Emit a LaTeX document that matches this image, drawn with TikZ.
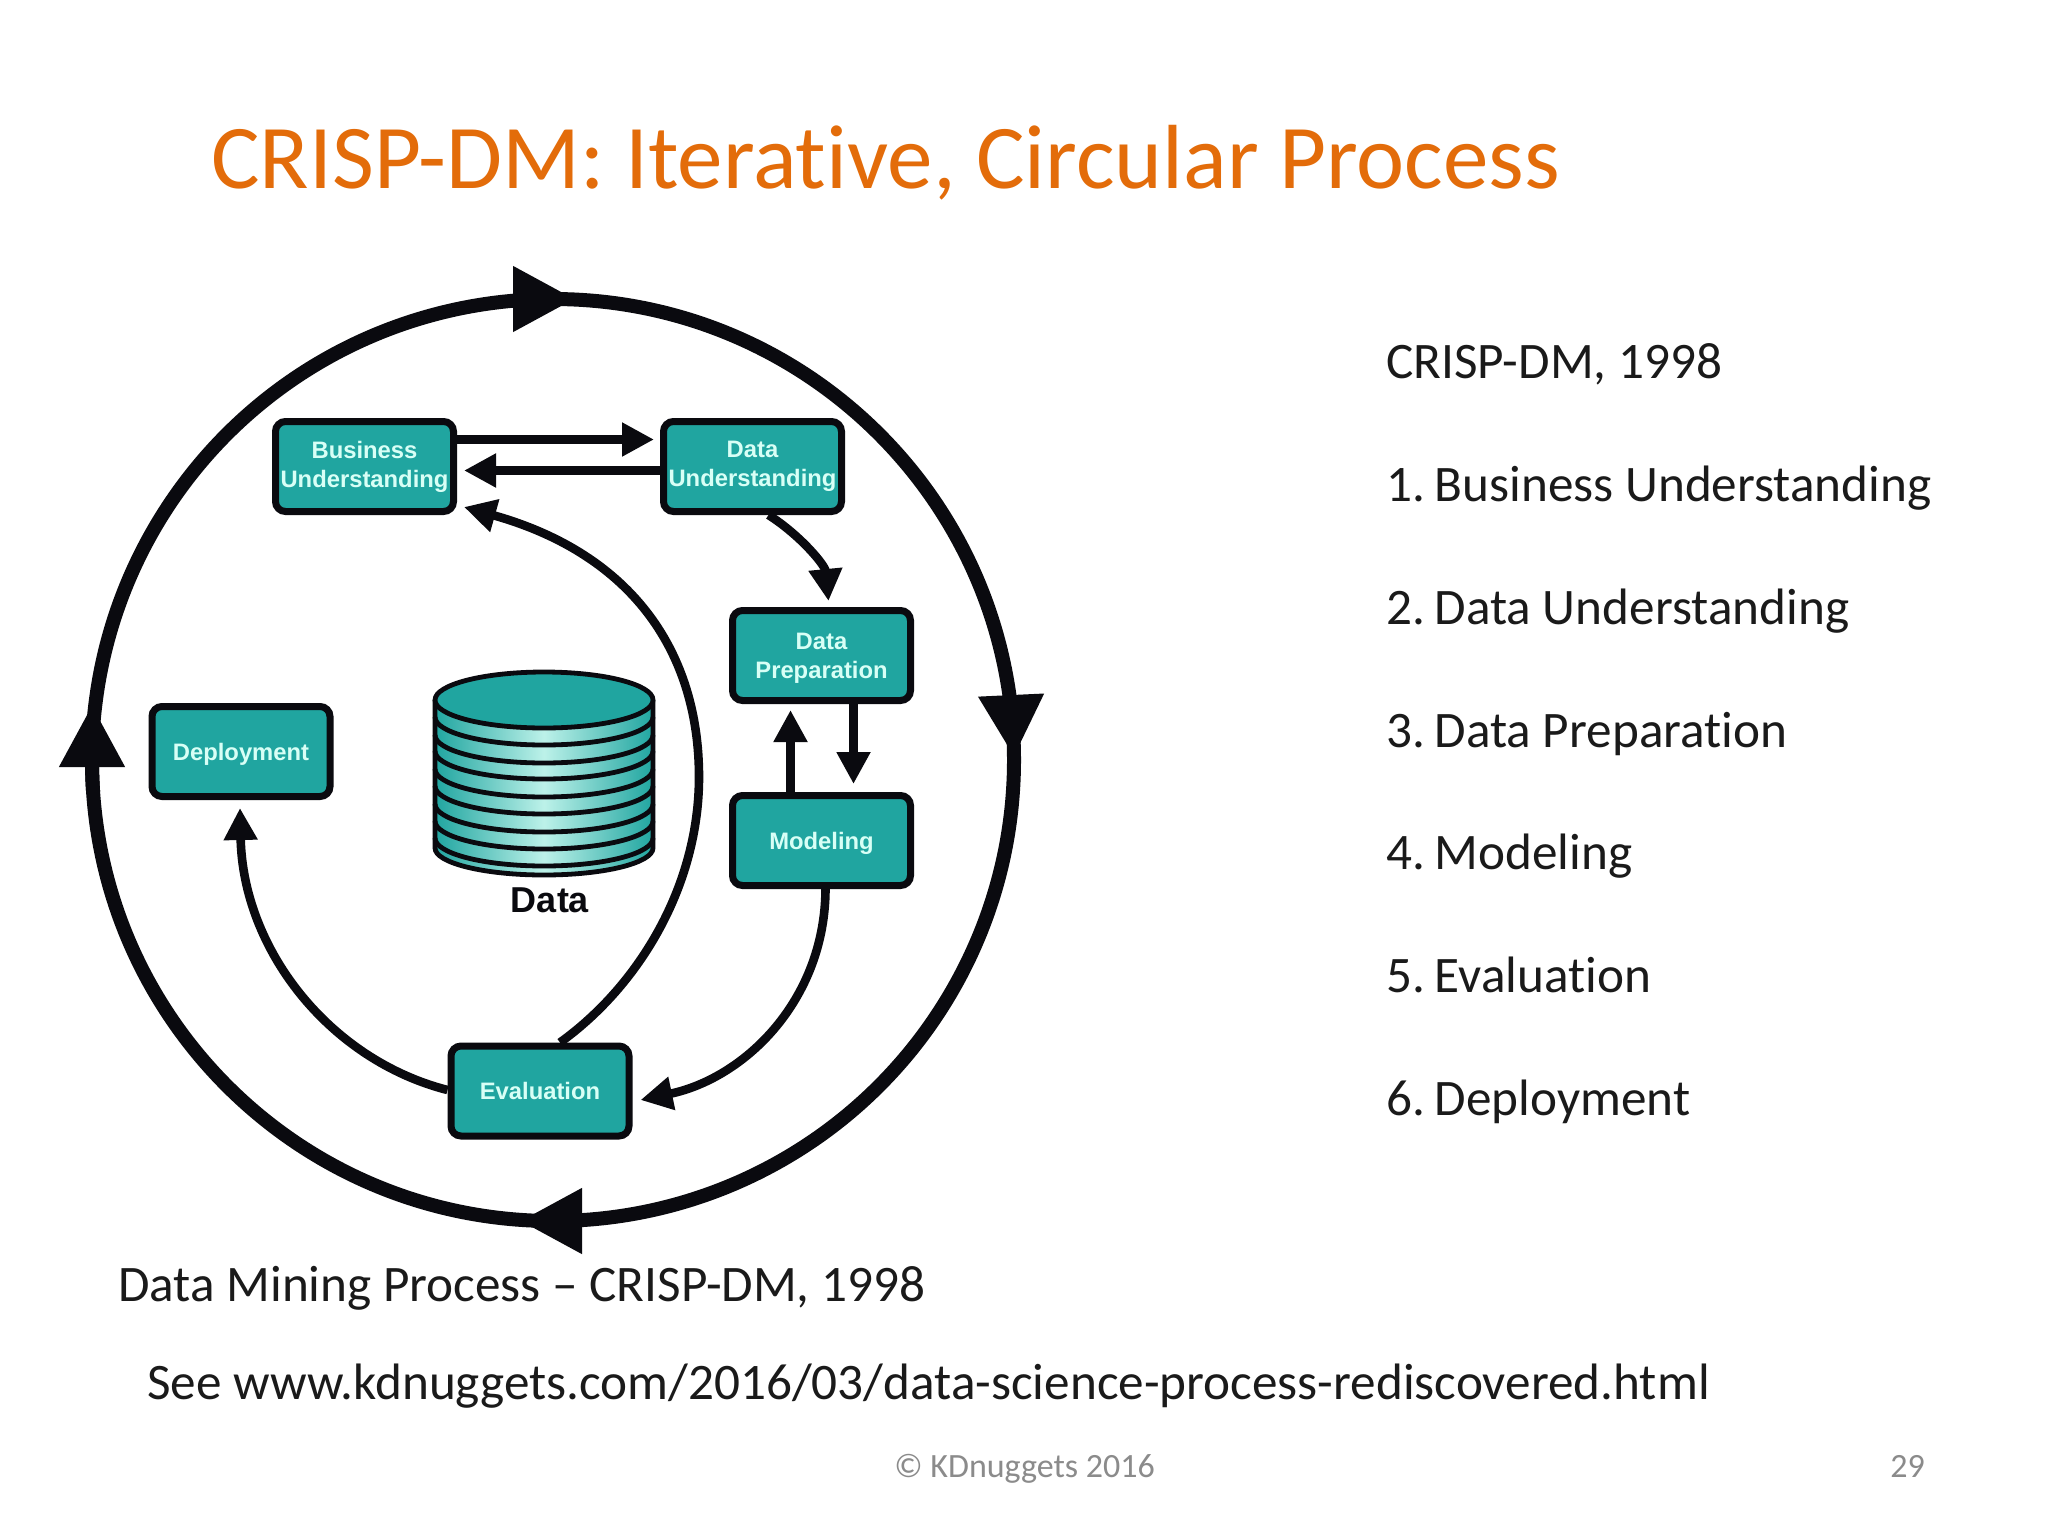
\documentclass[tikz,border=0pt]{standalone}
\usepackage{fontspec}
\setmainfont{Carlito}[Ligatures=NoCommon]
\newfontfamily\boxfont{Liberation Sans}[BoldFont={Liberation Sans Bold}]
\usetikzlibrary{arrows.meta,calc}
\definecolor{teal1}{HTML}{20A5A0}
\definecolor{tealtxt}{HTML}{D8FFF6}
\definecolor{ink}{HTML}{0A0A0F}
\definecolor{titleorange}{HTML}{E36C0A}
\definecolor{bodyink}{HTML}{1A1A1A}
\definecolor{footgray}{HTML}{8B8B8B}
\newcommand{\numgap}{\kern-1pt\ }
\tikzset{
  procbox/.style={draw=ink,fill=teal1,line width=3.5pt,rounded corners=5pt,minimum width=89pt,minimum height=45pt,inner sep=0pt,align=center,text=tealtxt,font=\boxfont\bfseries\fontsize{11.9}{14.4}\selectfont},
  ringarrow/.style={draw=ink,line width=7pt,-{Triangle[length=31pt,width=31pt]}},
  flow/.style={draw=ink,line width=4.3pt,-{Triangle[length=16pt,width=16pt]},shorten >=0pt},
  titletext/.style={anchor=base west,inner sep=0pt,text=titleorange,font=\fontsize{45.55}{50}\selectfont},
  bodytext/.style={anchor=base west,inner sep=0pt,text=bodyink,font=\fontsize{25.6}{30}\selectfont},
  foottext/.style={anchor=base west,inner sep=0pt,text=footgray,font=\fontsize{17}{20}\selectfont},
  disk/.style={draw=ink,line width=2.4pt},
}
\begin{document}
\begin{tikzpicture}[x=0.5pt,y=0.5pt,yscale=-1]
\useasboundingbox (0,0) rectangle (2048,1536);
\fill[white] (0,0) rectangle (2048,1536);
\node[titletext] (title) at (211,188) {CRISP-DM: Iterative, Circular Process};

% outer cycle
\coordinate (ring) at (553,760);
\draw[ringarrow] ($(ring)+(176:461)$) arc[start angle=176,end angle=270,radius=461] -- (575,299);
\draw[ringarrow] ($(ring)+(270.5:461)$) arc[start angle=270.5,end angle=355,radius=461] -- (1014,757);
\draw[ringarrow] ($(ring)+(356:461)$) arc[start angle=356,end angle=450,radius=461] -- (520,1221);
\draw[ringarrow] ($(ring)+(91:461)$) arc[start angle=91,end angle=180,radius=461] -- (92,705);

% boxes
\node[procbox] (bu) at (364.5,466.5) {Business\\Understanding};
\node[procbox] (du) at (752.5,466.5) {Data\\Understanding};
\node[procbox,text depth=0pt] (dp) at (821.5,655.5) {Data\\Preparation};
\node[procbox,text depth=0pt] (mo) at (821.5,840.5) {Modeling};
\node[procbox,text depth=0pt] (de) at (241,751.5) {Deployment};
\node[procbox] (ev) at (540,1091) {Evaluation};

% connectors
\draw[flow] ($(bu.east)+(0,-27)$) -- ($(du.west)+(-6,-27)$);
\draw[flow] ($(du.west)+(0,4)$) -- ($(bu.east)+(7,4)$);
\draw[flow] ($(du.south)+(16,0)$) .. controls (800,535) and (825,565) .. ($(dp.north)+(7,-6)$);
\draw[flow] ($(dp.south)+(32,0)$) -- ($(mo.north)+(32,-8)$);
\draw[flow] ($(mo.north)+(-31,0)$) -- ($(dp.south)+(-31,6)$);
\draw[flow] ($(mo.south)+(4,0)$) .. controls (825,1000) and (745,1078) .. ($(ev.east)+(8,9)$);
\draw[flow] ($(ev.north)+(20,0)$) .. controls (640,985) and (699,885) .. (699,777) .. controls (699,655) and (635,555) .. ($(bu.south east)+(7,-8)$);
\draw[flow] ($(ev.west)+(0,-1)$) .. controls (330,1060) and (243,950) .. ($(de.south)+(-1,8)$);

% data cylinder
\path[left color=teal1,right color=teal1,middle color=tealtxt!85!teal1] (435,700) -- (435,848) arc[start angle=180,end angle=0,x radius=109,y radius=27] -- (653,700) -- cycle;
\draw[disk] (435,700) -- (435,848) arc[start angle=180,end angle=0,x radius=109,y radius=27] -- (653,700);
\foreach \yc in {717,735,751,769,786,804,821,838}{
  \draw[disk] (435,\yc) arc[start angle=180,end angle=0,x radius=109,y radius=28];
}
\draw[disk,fill=teal1] (544,700) ellipse[x radius=109,y radius=28];
\node[anchor=base,inner sep=0pt,text=ink,font=\boxfont\bfseries\fontsize{18}{20}\selectfont] (data) at (550,912) {Data};

% right list
\node[bodytext] (l0) at (1386,378) {CRISP-DM, 1998};
\node[bodytext] (l1) at (1386,501) {1.\numgap Business Understanding};
\node[bodytext] (l2) at (1386,624) {2.\numgap Data Understanding};
\node[bodytext] (l3) at (1386,747) {3.\numgap Data Preparation};
\node[bodytext] (l4) at (1386,869) {4.\numgap Modeling};
\node[bodytext] (l5) at (1386,992) {5.\numgap Evaluation};
\node[bodytext] (l6) at (1386,1115) {6.\numgap Deployment};

% captions
\node[bodytext] (cap) at (118,1301) {Data Mining Process – CRISP-DM, 1998};
\node[bodytext] (see) at (147,1399) {See www.kdnuggets.com/2016/03/data-science-process-rediscovered.html};
\node[foottext] (foot) at (894,1477) {© KDnuggets 2016};
\node[foottext] (page) at (1890,1477) {29};
\end{tikzpicture}
\end{document}
